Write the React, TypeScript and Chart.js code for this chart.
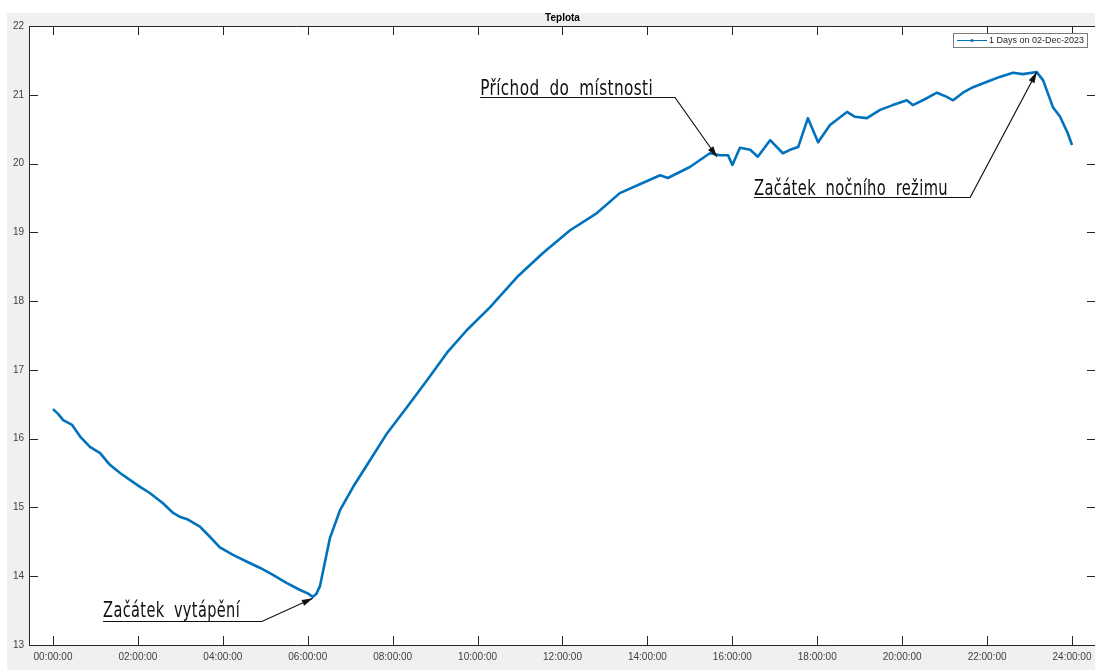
import React, { useEffect, useRef } from 'react';
import { Chart, registerables } from 'chart.js';

Chart.register(...registerables);

// ---- data (hours since midnight, temperature °C) ----
const hours = [
  0.0, 0.12, 0.24, 0.45, 0.64, 0.87, 1.11, 1.34, 1.58, 1.81, 2.05, 2.28, 2.59, 2.83, 3.0, 3.16, 3.46,
  3.7, 3.93, 4.24, 4.57, 4.88, 5.18, 5.51, 5.82, 6.0, 6.12, 6.2, 6.29, 6.41, 6.52, 6.76, 7.07, 7.47,
  7.87, 8.34, 8.81, 9.28, 9.75, 10.29, 10.93, 11.54, 12.18, 12.81, 13.35, 13.9, 14.3, 14.48, 15.0,
  15.47, 15.71, 15.9, 16.0, 16.18, 16.42, 16.6, 16.89, 17.19, 17.36, 17.55, 17.78, 18.02, 18.3,
  18.7, 18.89, 19.17, 19.48, 19.78, 20.11, 20.25, 20.58, 20.82, 21.05, 21.2, 21.43, 21.67, 22.0,
  22.3, 22.61, 22.84, 23.17, 23.32, 23.55, 23.72, 23.9, 24.0,
];
const temps = [
  16.43, 16.36, 16.27, 16.2, 16.03, 15.88, 15.79, 15.62, 15.5, 15.4, 15.3, 15.21, 15.06, 14.92,
  14.86, 14.83, 14.72, 14.57, 14.42, 14.31, 14.21, 14.12, 14.02, 13.9, 13.8, 13.75, 13.7, 13.74,
  13.86, 14.22, 14.55, 14.96, 15.3, 15.69, 16.08, 16.46, 16.85, 17.25, 17.58, 17.91, 18.35, 18.7,
  19.03, 19.28, 19.57, 19.72, 19.83, 19.79, 19.95, 20.15, 20.12, 20.12, 19.98, 20.23, 20.2, 20.1,
  20.34, 20.15, 20.2, 20.24, 20.66, 20.31, 20.56, 20.75, 20.68, 20.66, 20.78, 20.85, 20.92, 20.85,
  20.95, 21.03, 20.97, 20.92, 21.03, 21.11, 21.19, 21.26, 21.32, 21.3, 21.33, 21.21, 20.82, 20.68,
  20.44, 20.27,
];
const xTickValues = [0, 2, 4, 6, 8, 10, 12, 14, 16, 18, 20, 22, 24];
const yTickValues = [13, 14, 15, 16, 17, 18, 19, 20, 21, 22];
const chartTitle = 'Teplota';
const seriesLabel = '1 Days on 02-Dec-2023';

// annotation texts anchored in data coordinates
const annotationTexts = ['Začátek vytápění', 'Příchod do místnosti', 'Začátek nočního režimu'];
const annotationTextX = [1.18, 10.06, 16.51];
const annotationBaseY = [13.41, 21.0, 19.54];
const annotationLineY = [13.35, 20.97, 19.51];
const annotationEndX = [4.92, 14.65, 21.6];
const annotationTipX = [6.12, 15.64, 23.17];
const annotationTipY = [13.68, 20.095, 21.33];
const annotationWidths = [137, 173, 194];

const LINE_COLOR = '#0072BD';
const AXIS_COLOR = '#262626';

const framePlugin = {
  id: 'frame',
  beforeDraw(chart: any) {
    const { ctx, width, height, chartArea: a } = chart;
    ctx.save();
    ctx.fillStyle = '#ffffff';
    ctx.fillRect(0, 0, width, height);
    ctx.fillStyle = '#f0f0f0';
    ctx.fillRect(7, 13, width - 7, height - 13);
    ctx.fillStyle = '#ffffff';
    ctx.fillRect(a.left, a.top, a.right - a.left, a.bottom - a.top);
    ctx.restore();
  },
  afterDatasetsDraw(chart: any) {
    const { ctx, chartArea: a } = chart;
    const xs = chart.scales.x;
    const ys = chart.scales.y;
    ctx.save();
    // box
    ctx.strokeStyle = AXIS_COLOR;
    ctx.lineWidth = 1;
    ctx.beginPath();
    ctx.moveTo(a.left + 0.5, a.bottom + 0.5);
    ctx.lineTo(a.left + 0.5, a.top + 0.5);
    ctx.lineTo(a.right + 0.5, a.top + 0.5);
    ctx.moveTo(a.left + 0.5, a.bottom + 0.5);
    ctx.lineTo(a.right + 0.5, a.bottom + 0.5);
    ctx.moveTo(a.right - 0.5, a.top);
    ctx.lineTo(a.right - 0.5, a.bottom);
    ctx.stroke();
    // ticks (inward)
    const tl = 9;
    ctx.beginPath();
    xTickValues.forEach((v) => {
      const px = Math.round(xs.getPixelForValue(v)) + 0.5;
      ctx.moveTo(px, a.bottom);
      ctx.lineTo(px, a.bottom - tl);
      ctx.moveTo(px, a.top);
      ctx.lineTo(px, a.top + tl);
    });
    yTickValues.forEach((v) => {
      const py = Math.round(ys.getPixelForValue(v)) + 0.5;
      ctx.moveTo(a.left, py);
      ctx.lineTo(a.left + tl, py);
      ctx.moveTo(a.right, py);
      ctx.lineTo(a.right - tl, py);
    });
    ctx.stroke();

    // annotations
    ctx.fillStyle = '#111111';
    ctx.strokeStyle = '#111111';
    annotationTexts.forEach((text, i) => {
      const tx = xs.getPixelForValue(annotationTextX[i]);
      const by = ys.getPixelForValue(annotationBaseY[i]);
      const ly = Math.round(ys.getPixelForValue(annotationLineY[i])) + 0.5;
      const ex = xs.getPixelForValue(annotationEndX[i]);
      const tipx = xs.getPixelForValue(annotationTipX[i]);
      const tipy = ys.getPixelForValue(annotationTipY[i]);
      ctx.font = '22px "Liberation Sans Narrow", "DejaVu Sans Condensed", "Liberation Sans", sans-serif';
      ctx.textBaseline = 'alphabetic';
      ctx.textAlign = 'left';
      try {
        (ctx as any).wordSpacing = '6px';
        (ctx as any).letterSpacing = '0.5px';
      } catch (e) {
        /* ignore */
      }
      const w = ctx.measureText(text).width;
      const sx = annotationWidths[i] / w;
      ctx.save();
      ctx.translate(tx, by);
      ctx.scale(sx, 1);
      ctx.fillText(text, 0, 0);
      ctx.restore();
      try {
        (ctx as any).wordSpacing = '0px';
        (ctx as any).letterSpacing = '0px';
      } catch (e) {
        /* ignore */
      }
      // underline + leader
      ctx.lineWidth = 1.2;
      ctx.beginPath();
      ctx.moveTo(tx, ly);
      ctx.lineTo(ex, ly);
      ctx.lineTo(tipx, tipy);
      ctx.stroke();
      // arrow head
      const ang = Math.atan2(tipy - ly, tipx - ex);
      const L = 11;
      const H = 3.2;
      ctx.beginPath();
      ctx.moveTo(tipx, tipy);
      ctx.lineTo(tipx - L * Math.cos(ang) + H * Math.sin(ang), tipy - L * Math.sin(ang) - H * Math.cos(ang));
      ctx.lineTo(tipx - L * Math.cos(ang) - H * Math.sin(ang), tipy - L * Math.sin(ang) + H * Math.cos(ang));
      ctx.closePath();
      ctx.fill();
    });

    // legend (inside, top-right)
    const lx = 953;
    const lyTop = 33;
    const lw = 134;
    const lh = 14;
    ctx.fillStyle = '#ffffff';
    ctx.fillRect(lx, lyTop, lw, lh);
    ctx.strokeStyle = '#7a7a7a';
    ctx.lineWidth = 1;
    ctx.strokeRect(lx + 0.5, lyTop + 0.5, lw, lh);
    const cy = lyTop + lh / 2 + 0.5;
    ctx.strokeStyle = LINE_COLOR;
    ctx.beginPath();
    ctx.moveTo(lx + 4, cy);
    ctx.lineTo(lx + 34, cy);
    ctx.stroke();
    ctx.fillStyle = LINE_COLOR;
    ctx.beginPath();
    ctx.arc(lx + 19, cy, 1.6, 0, Math.PI * 2);
    ctx.fill();
    ctx.fillStyle = '#262626';
    ctx.font = '9px "Liberation Sans", Arial, sans-serif';
    ctx.textBaseline = 'middle';
    ctx.fillText(chart.data.datasets[0].label, lx + 36, cy);
    ctx.restore();
  },
};

function fmtHour(v: number) {
  return `${String(v).padStart(2, '0')}:00:00`;
}

export default function App() {
  const canvasRef = useRef<HTMLCanvasElement | null>(null);

  useEffect(() => {
    const canvas = canvasRef.current;
    if (!canvas) return;
    const chart = new Chart(canvas, {
      type: 'line',
      data: {
        datasets: [
          {
            label: seriesLabel,
            data: hours.map((h, i) => ({ x: h, y: temps[i] })),
            borderColor: LINE_COLOR,
            backgroundColor: LINE_COLOR,
            borderWidth: 2.6,
            pointRadius: 0,
            tension: 0,
            borderJoinStyle: 'round',
            fill: false,
          },
        ],
      },
      options: {
        animation: false,
        responsive: false,
        devicePixelRatio: 1,
        layout: { padding: { left: 0, right: 4, top: 0, bottom: 0 } },
        plugins: {
          legend: { display: false },
          tooltip: { enabled: false },
          title: {
            display: true,
            text: chartTitle,
            fullSize: false,
            color: '#000000',
            font: { family: '"Liberation Sans", Arial, sans-serif', size: 10, weight: 'bold' },
            padding: { top: 12, bottom: 2 },
          },
        },
        scales: {
          x: {
            type: 'linear',
            min: -0.565,
            max: 24.565,
            grid: { display: false, drawTicks: false },
            border: { display: false },
            afterFit: (s: any) => {
              s.height = 25;
            },
            afterBuildTicks: (s: any) => {
              s.ticks = xTickValues.map((v) => ({ value: v }));
            },
            ticks: {
              autoSkip: false,
              maxRotation: 0,
              padding: 6,
              color: '#404040',
              font: { family: '"Liberation Sans", Arial, sans-serif', size: 10 },
              callback: (v: any) => fmtHour(Number(v)),
            },
          },
          y: {
            type: 'linear',
            min: 13,
            max: 22,
            grid: { display: false, drawTicks: false },
            border: { display: false },
            afterFit: (s: any) => {
              s.width = 29;
            },
            afterBuildTicks: (s: any) => {
              s.ticks = yTickValues.map((v) => ({ value: v }));
            },
            ticks: {
              autoSkip: false,
              padding: 5,
              color: '#404040',
              font: { family: '"Liberation Sans", Arial, sans-serif', size: 10 },
              callback: (v: any) => String(v),
            },
          },
        },
      },
      plugins: [framePlugin],
    });
    return () => chart.destroy();
  }, []);

  return (
    <div
      style={{
        position: 'fixed',
        left: 0,
        top: 0,
        width: 1095,
        height: 670,
        overflow: 'hidden',
        background: '#fff',
      }}
    >
      <canvas ref={canvasRef} width={1100} height={670} style={{ display: 'block' }} />
    </div>
  );
}
